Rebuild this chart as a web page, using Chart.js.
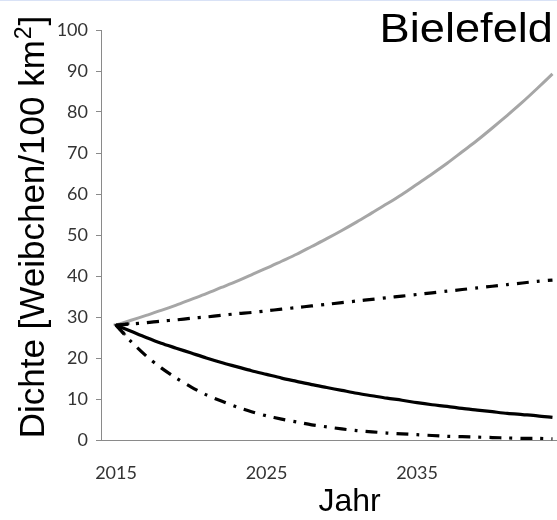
<!DOCTYPE html>
<html lang="de">
<head>
<meta charset="utf-8">
<title>Bielefeld – Dichte</title>
<script src="https://cdn.jsdelivr.net/npm/chart.js@4.4.0/dist/chart.umd.min.js"></script>
<style>
  html, body { margin: 0; padding: 0; background: #fff; overflow: hidden; }
  #frame { width: 557px; height: 519px; border-top: 1px solid #d9e2f6; }
  canvas { display: block; }
</style>
</head>
<body>
<div id="frame"><canvas id="chart" width="557" height="519"></canvas></div>
<script>
// Years of the projection
const years = [2015, 2016, 2017, 2018, 2019, 2020, 2021, 2022, 2023, 2024,
               2025, 2026, 2027, 2028, 2029, 2030, 2031, 2032, 2033, 2034,
               2035, 2036, 2037, 2038, 2039, 2040, 2041, 2042, 2043, 2044];

// Density of females per 100 km² for the four scenarios
const densityHigh = [28.0, 29.2, 30.4, 31.6, 32.9, 34.3, 35.7, 37.2, 38.7, 40.3,
                     41.9, 43.6, 45.3, 47.2, 49.1, 51.1, 53.2, 55.4, 57.6, 59.9,
                     62.4, 64.9, 67.5, 70.3, 73.1, 76.1, 79.2, 82.4, 85.8, 89.3];
const densityModerateUp = [28.0, 28.3, 28.6, 29.0, 29.3, 29.7, 30.0, 30.4, 30.8, 31.1,
                           31.5, 31.9, 32.3, 32.7, 33.1, 33.5, 33.9, 34.3, 34.7, 35.1,
                           35.5, 35.9, 36.3, 36.7, 37.1, 37.5, 37.9, 38.3, 38.7, 39.0];
const densityDecline = [28.0, 26.5, 25.0, 23.6, 22.4, 21.2, 20.0, 18.9, 17.9, 16.9,
                        16.0, 15.1, 14.3, 13.5, 12.8, 12.1, 11.4, 10.8, 10.2, 9.7,
                        9.1, 8.6, 8.2, 7.7, 7.3, 6.9, 6.5, 6.2, 5.9, 5.5];
const densityCollapse = [28.0, 24.0, 20.5, 17.6, 15.1, 12.9, 11.0, 9.5, 8.1, 6.9,
                         5.9, 5.1, 4.4, 3.7, 3.2, 2.7, 2.3, 2.0, 1.7, 1.5,
                         1.3, 1.1, 0.9, 0.8, 0.7, 0.6, 0.5, 0.4, 0.4, 0.3];

// Axis tick labels and texts
const xTickYears = [2015, 2025, 2035];
const yTickStep = 10;
const placeName = 'Bielefeld';
const xTitle = 'Jahr';
const yTitleMain = 'Dichte [Weibchen/100 km';
const yTitleSup = '2';
const yTitleEnd = ']';

const pairs = arr => arr.map((v, i) => ({ x: years[i], y: v }));

// Open arrowhead used as the start marker of the solid line
const arrowHead = (() => {
  const c = document.createElement('canvas');
  c.width = 28; c.height = 18;
  const g = c.getContext('2d');
  g.strokeStyle = '#000';
  g.lineWidth = 2.6;
  g.lineCap = 'round';
  g.lineJoin = 'miter';
  g.beginPath();
  g.moveTo(25, 3.5);
  g.lineTo(14, 9);
  g.lineTo(25, 14.5);
  g.stroke();
  return c;
})();

const titleFamily = '"Liberation Sans", Arial, sans-serif';

// Place name, x axis title and rotated y axis title (with a raised "2")
const textLabels = {
  id: 'textLabels',
  afterDraw(chart) {
    const { ctx, chartArea } = chart;

    ctx.save();
    ctx.fillStyle = '#000';
    ctx.textBaseline = 'alphabetic';
    ctx.font = '40px ' + titleFamily;
    ctx.textAlign = 'right';
    ctx.translate(chart.width - 4, 41);
    ctx.scale(1.13, 1);
    ctx.fillText(placeName, 0, 0);
    ctx.restore();

    ctx.save();
    ctx.fillStyle = '#000';
    ctx.textBaseline = 'alphabetic';
    ctx.textAlign = 'center';
    ctx.font = '32px ' + titleFamily;
    ctx.fillText(xTitle, chartArea.left + (chartArea.right - chartArea.left) * 0.545, 510);
    ctx.restore();

    ctx.save();
    ctx.fillStyle = '#000';
    ctx.textBaseline = 'alphabetic';
    ctx.textAlign = 'left';
    const big = '35px ' + titleFamily;
    const small = '23px ' + titleFamily;
    ctx.font = big;
    const wMain = ctx.measureText(yTitleMain).width;
    const wEnd = ctx.measureText(yTitleEnd).width;
    ctx.font = small;
    const wSup = ctx.measureText(yTitleSup).width;
    const total = wMain + wSup + wEnd;
    // baseline sits at x = 44, text runs upwards centred on y = 228
    ctx.translate(44, 227 + total / 2);
    ctx.rotate(-Math.PI / 2);
    ctx.font = big;
    ctx.fillText(yTitleMain, 0, 0);
    ctx.font = small;
    ctx.fillText(yTitleSup, wMain + 1, -13);
    ctx.font = big;
    ctx.fillText(yTitleEnd, wMain + wSup + 2, 0);
    ctx.restore();
  }
};

const axisColor = '#8a8a8a';
const tickFont = { family: 'Lato, "Open Sans", sans-serif', size: 18 };
const tickColor = '#333';

new Chart(document.getElementById('chart'), {
  type: 'line',
  data: {
    datasets: [
      {
        data: pairs(densityDecline),
        borderColor: '#000',
        borderWidth: 3.2,
        tension: 0.3,
        pointRadius: ctx => (ctx.dataIndex === 0 ? 6 : 0),
        pointStyle: arrowHead,
        pointRotation: 20,
        clip: false
      },
      {
        data: pairs(densityModerateUp),
        borderColor: '#000',
        borderWidth: 3.2,
        borderDash: [12, 8, 3, 8],
        tension: 0.3,
        pointRadius: 0,
        clip: false
      },
      {
        data: pairs(densityCollapse),
        borderColor: '#000',
        borderWidth: 3.2,
        borderDash: [12, 8, 3, 8],
        tension: 0.3,
        pointRadius: 0,
        clip: false
      },
      {
        data: pairs(densityHigh),
        borderColor: '#a6a6a6',
        borderWidth: 3,
        tension: 0.3,
        pointRadius: 0,
        clip: false
      }
    ]
  },
  options: {
    responsive: false,
    animation: false,
    devicePixelRatio: 1,
    layout: { autoPadding: false, padding: { top: 29, right: 0, bottom: 0, left: 0 } },
    plugins: {
      legend: { display: false },
      tooltip: { enabled: false },
      title: { display: false }
    },
    scales: {
      x: {
        type: 'linear',
        min: 2014,
        max: 2044.3,
        afterBuildTicks: scale => { scale.ticks = xTickYears.map(v => ({ value: v })); },
        afterFit: scale => { scale.height = 80; },
        grid: { display: true, drawOnChartArea: false, drawTicks: false },
        border: { color: axisColor, width: 1 },
        ticks: {
          padding: 22,
          autoSkip: false,
          maxRotation: 0,
          font: tickFont,
          color: tickColor,
          callback: v => String(v)
        }
      },
      y: {
        min: 0,
        max: 100,
        afterFit: scale => { scale.width = 101; },
        grid: { drawOnChartArea: false, drawTicks: true, tickLength: 5, color: axisColor },
        border: { color: axisColor, width: 1 },
        ticks: { stepSize: yTickStep, padding: 8, font: tickFont, color: tickColor },
        title: { display: false }
      }
    }
  },
  plugins: [textLabels]
});
</script>
</body>
</html>
